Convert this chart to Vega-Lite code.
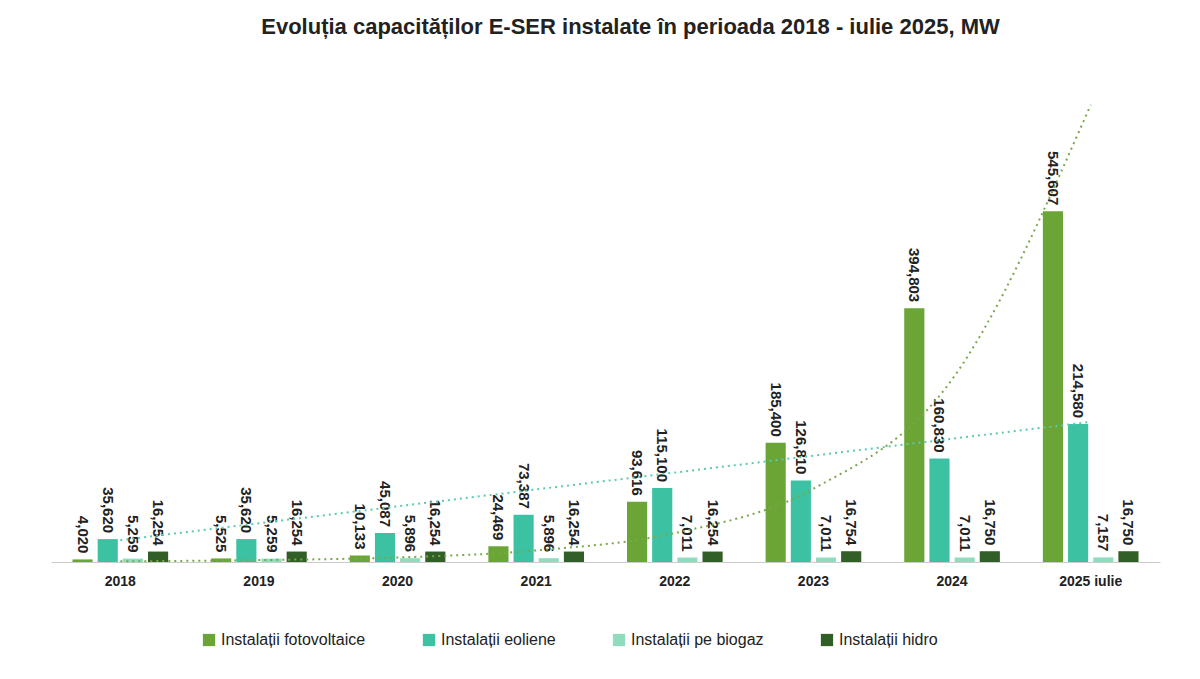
{
"$schema":"https://vega.github.io/schema/vega-lite/v6.json",
"autosize":{"type":"none"},
"width":1109,"height":450,
"padding":{"left":51,"top":112,"right":40,"bottom":117},
"background":"white",
"config":{"view":{"stroke":null}},
"title":{"text":"Evoluția capacităților E-SER instalate în perioada 2018 - iulie 2025, MW","fontSize":22,"font":"Liberation Sans","fontWeight":"bold","color":"#222","anchor":"middle","offset":62,"dx":25},
"datasets":{
"bars":[
{"an":"2018","tip":"Instalații fotovoltaice","v":4.020,"lab":"4,020"},
{"an":"2018","tip":"Instalații eoliene","v":35.620,"lab":"35,620"},
{"an":"2018","tip":"Instalații pe biogaz","v":5.259,"lab":"5,259"},
{"an":"2018","tip":"Instalații hidro","v":16.254,"lab":"16,254"},
{"an":"2019","tip":"Instalații fotovoltaice","v":5.525,"lab":"5,525"},
{"an":"2019","tip":"Instalații eoliene","v":35.620,"lab":"35,620"},
{"an":"2019","tip":"Instalații pe biogaz","v":5.259,"lab":"5,259"},
{"an":"2019","tip":"Instalații hidro","v":16.254,"lab":"16,254"},
{"an":"2020","tip":"Instalații fotovoltaice","v":10.133,"lab":"10,133"},
{"an":"2020","tip":"Instalații eoliene","v":45.087,"lab":"45,087"},
{"an":"2020","tip":"Instalații pe biogaz","v":5.896,"lab":"5,896"},
{"an":"2020","tip":"Instalații hidro","v":16.254,"lab":"16,254"},
{"an":"2021","tip":"Instalații fotovoltaice","v":24.469,"lab":"24,469"},
{"an":"2021","tip":"Instalații eoliene","v":73.387,"lab":"73,387"},
{"an":"2021","tip":"Instalații pe biogaz","v":5.896,"lab":"5,896"},
{"an":"2021","tip":"Instalații hidro","v":16.254,"lab":"16,254"},
{"an":"2022","tip":"Instalații fotovoltaice","v":93.616,"lab":"93,616"},
{"an":"2022","tip":"Instalații eoliene","v":115.100,"lab":"115,100"},
{"an":"2022","tip":"Instalații pe biogaz","v":7.011,"lab":"7,011"},
{"an":"2022","tip":"Instalații hidro","v":16.254,"lab":"16,254"},
{"an":"2023","tip":"Instalații fotovoltaice","v":185.400,"lab":"185,400"},
{"an":"2023","tip":"Instalații eoliene","v":126.810,"lab":"126,810"},
{"an":"2023","tip":"Instalații pe biogaz","v":7.011,"lab":"7,011"},
{"an":"2023","tip":"Instalații hidro","v":16.754,"lab":"16,754"},
{"an":"2024","tip":"Instalații fotovoltaice","v":394.803,"lab":"394,803"},
{"an":"2024","tip":"Instalații eoliene","v":160.830,"lab":"160,830"},
{"an":"2024","tip":"Instalații pe biogaz","v":7.011,"lab":"7,011"},
{"an":"2024","tip":"Instalații hidro","v":16.750,"lab":"16,750"},
{"an":"2025 iulie","tip":"Instalații fotovoltaice","v":545.607,"lab":"545,607"},
{"an":"2025 iulie","tip":"Instalații eoliene","v":214.580,"lab":"214,580"},
{"an":"2025 iulie","tip":"Instalații pe biogaz","v":7.157,"lab":"7,157"},
{"an":"2025 iulie","tip":"Instalații hidro","v":16.750,"lab":"16,750"}
],
"exp":[
{"an":"2018","v":1},{"an":"2019","v":3},{"an":"2020","v":7},{"an":"2021","v":18},{"an":"2022","v":45},{"an":"2023","v":114},{"an":"2024","v":284},{"an":"2025 iulie","v":711}
],
"lin":[{"an":"2018","v":34},{"an":"2025 iulie","v":218}]
},
"encoding":{
"x":{"field":"an","type":"nominal","sort":null,"scale":{"domain":["2018","2019","2020","2021","2022","2023","2024","2025 iulie"],"paddingInner":0.31,"paddingOuter":0.155},"axis":{"title":null,"labelAngle":0,"labelFontSize":14,"labelFontWeight":"bold","labelFont":"Liberation Sans","labelColor":"#222","labelPadding":12,"ticks":false,"domainColor":"#ccc"}},
"y":{"field":"v","type":"quantitative","scale":{"domain":[0,700]},"axis":null}
},
"layer":[
{"data":{"name":"bars"},"mark":{"type":"bar"},
"encoding":{"xOffset":{"field":"tip","sort":null,"scale":{"paddingInner":0.2}},
"color":{"field":"tip","sort":null,"scale":{"range":["#6aa535","#3cc2a2","#8fdcbf","#325e27"]},
"legend":{"title":null,"orient":"none","direction":"horizontal","legendX":150,"legendY":520,"symbolType":"square","symbolSize":150,"labelFontSize":16,"labelFont":"Liberation Sans","labelColor":"#222","columnPadding":55,"labelLimit":300}}}},
{"data":{"name":"bars"},"mark":{"type":"text","angle":90,"align":"right","baseline":"middle","dx":-6,"fontSize":15,"fontWeight":"bold","font":"Liberation Sans","color":"#222"},
"encoding":{"xOffset":{"field":"tip","sort":null},"text":{"field":"lab"}}},
{"data":{"name":"exp"},"mark":{"type":"line","strokeDash":[2,4],"strokeWidth":2,"interpolate":"monotone","color":"#7aa84a"},"encoding":{}},
{"data":{"name":"lin"},"mark":{"type":"line","strokeDash":[2,4],"strokeWidth":2,"color":"#5ccab0"},"encoding":{}}
]
}
